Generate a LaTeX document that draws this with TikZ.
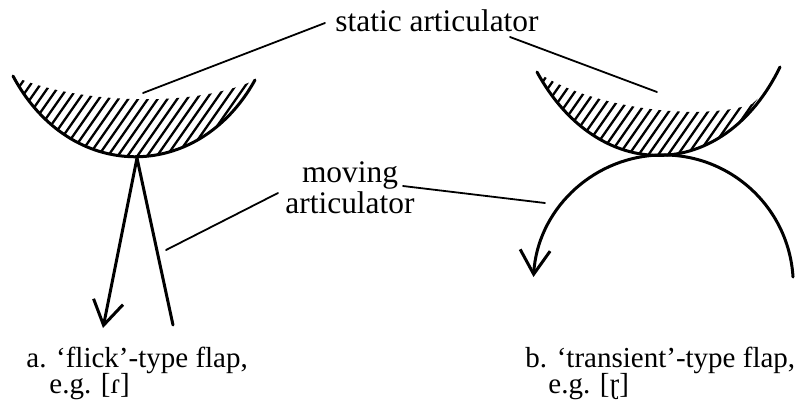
\documentclass[tikz,border=0pt]{standalone}
\usepackage{fontspec}
\setmainfont{Liberation Serif}
\usetikzlibrary{arrows.meta}

\begin{document}
\begin{tikzpicture}[x=0.5pt, y=-0.5pt, line cap=round]
    % Define line widths and hatch spacing
    \def\arcWidth{1.5pt}
    \def\hatchWidth{1.15pt}
    \def\hatchStep{9.8}

    \definecolor{inkColour}{HTML}{000000}

    \tikzset{
        articulator/.style={draw=inkColour, line width=\arcWidth},
        hatchline/.style={draw=inkColour, line width=\hatchWidth},
        pointer/.style={draw=inkColour, line width=0.9pt},
        flapArrow/.style={-{Straight Barb[length=12pt, width=15pt, line width=\arcWidth]}},
        caption/.style={inner sep=0pt, font=\fontsize{14.5}{16}\selectfont}
    }

    \useasboundingbox (0,0) rectangle (812,414);

    % Define the tips of the static articulators
    \coordinate (leftTipA) at (13,76);
    \coordinate (leftTipB) at (255,80);
    \coordinate (rightTipA) at (537,72);
    \coordinate (rightTipB) at (780,67);

    % Define the points of contact
    \coordinate (leftContact) at (137,158);
    \coordinate (rightContact) at (660,155);

    % Hatch the left static articulator
    \begin{scope}
        \clip (leftTipA) .. controls (70,183) and (198,183) .. (leftTipB) -- cycle;
        \clip (0,70) -- (leftTipA) .. controls (70,102) and (190,110) .. (leftTipB)
            -- (270,70) -- (270,200) -- (0,200) -- cycle;
        \foreach \i in {0,...,40}
            \draw[hatchline] (\i*\hatchStep-60,200) -- ++(100,-143);
    \end{scope}

    % Hatch the right static articulator
    \begin{scope}
        \clip (rightTipA) .. controls (598,184) and (723,184) .. (rightTipB) -- cycle;
        \clip (530,60) -- (rightTipA) .. controls (590,108) and (700,122) .. (752,104)
            -- (800,60) -- (800,200) -- (530,200) -- cycle;
        \foreach \i in {0,...,40}
            \draw[hatchline] (\i*\hatchStep+460,200) -- ++(100,-143);
    \end{scope}

    % Draw the static articulators
    \draw[articulator] (leftTipA) .. controls (70,183) and (198,183) .. (leftTipB);
    \draw[articulator] (rightTipA) .. controls (598,184) and (723,184) .. (rightTipB);

    % Draw the 'flick' moving articulator
    \coordinate (flickEnd) at (103,328);
    \coordinate (flickStart) at (173,325);
    \draw[articulator] (leftContact) -- (flickStart);
    \draw[articulator, flapArrow] (leftContact) -- (flickEnd);

    % Draw the 'transient' moving articulator
    \coordinate (transStart) at (793,277);
    \draw[articulator, flapArrow] (transStart) arc[start angle=-3.5, end angle=-176.5, radius=130];

    % Label the articulators
    \node[caption, font=\fontsize{15.7}{17}\selectfont] (static) at (437,21) {static articulator};
    \node[caption, align=center, font=\fontsize{15.7}{14}\selectfont] (moving) at (350,188) {moving\\articulator};

    \coordinate (staticPtA) at (325,23);
    \coordinate (staticPtB) at (510,37);
    \coordinate (staticOnA) at (143,93);
    \coordinate (staticOnB) at (657,92);
    \draw[pointer] (staticPtA) -- (staticOnA);
    \draw[pointer] (staticPtB) -- (staticOnB);

    \coordinate (movingPtA) at (278,193);
    \coordinate (movingPtB) at (403,186);
    \coordinate (movingOnA) at (166,250);
    \coordinate (movingOnB) at (545,203);
    \draw[pointer] (movingPtA) -- (movingOnA);
    \draw[pointer] (movingPtB) -- (movingOnB);

    % Captions
    \node[caption, anchor=base west] (flick) at (26,367) {a. ‘flick’-type flap,};
    \node[caption, anchor=base west] (flickEg) at (49,393) {e.g. [ɾ]};
    \node[caption, anchor=base west] (trans) at (525,367) {b. ‘transient’-type flap,};
    \node[caption, anchor=base west] (transEg) at (548,393) {e.g. [ɽ]};

\end{tikzpicture}
\end{document}
